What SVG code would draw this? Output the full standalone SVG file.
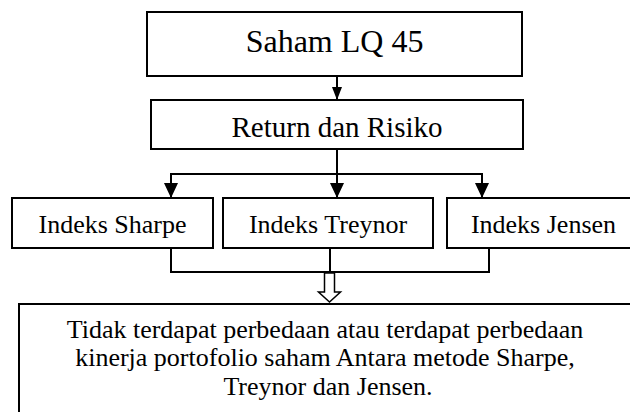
<svg xmlns="http://www.w3.org/2000/svg" width="630" height="412" viewBox="0 0 630 412">
<style>
.box{fill:#fff;stroke:#000;stroke-width:2}
.ln{fill:none;stroke:#000;stroke-width:2}
text{font-family:"Liberation Serif","Times New Roman",serif;fill:#000;text-anchor:middle}
</style>
<defs>
<marker id="ah" viewBox="0 0 15 14" refX="15" refY="7" markerWidth="15" markerHeight="14" markerUnits="userSpaceOnUse" orient="auto">
<path d="M0,0 L15,7 L0,14 Z" fill="#000"/>
</marker>
<marker id="ahs" viewBox="0 0 13 10" refX="13" refY="5" markerWidth="13" markerHeight="10" markerUnits="userSpaceOnUse" orient="auto">
<path d="M0,0 L13,5 L0,10 Z" fill="#000"/>
</marker>
</defs>
<g id="connectors">
<line class="ln" x1="337" y1="76" x2="337" y2="100" marker-end="url(#ahs)"/>
<line class="ln" x1="337" y1="149" x2="337" y2="198" marker-end="url(#ah)"/>
<polyline class="ln" points="171,198 171,174 482,174 482,198"/>
<line class="ln" x1="171" y1="180" x2="171" y2="198" marker-end="url(#ah)"/>
<line class="ln" x1="482" y1="180" x2="482" y2="198" marker-end="url(#ah)"/>
<polyline class="ln" points="171,248 171,272 489,272 489,248"/>
<line class="ln" x1="330" y1="248" x2="330" y2="272"/>
<path d="M324.5,273 L334.5,273 L334.5,292 L340.5,292 L329.5,302 L318.5,292 L324.5,292 Z" fill="#fff" stroke="#000" stroke-width="1.5"/>
</g>
<g id="saham">
<rect class="box" x="147" y="12" width="375" height="64"/>
<text x="334.5" y="52" font-size="32">Saham LQ 45</text>
</g>
<g id="return">
<rect class="box" x="151" y="100" width="372" height="49"/>
<text x="337" y="137" font-size="29">Return dan Risiko</text>
</g>
<g id="sharpe">
<rect class="box" x="12" y="198" width="201" height="50"/>
<text x="112.5" y="233" font-size="26">Indeks Sharpe</text>
</g>
<g id="treynor">
<rect class="box" x="223" y="198" width="210" height="50"/>
<text x="328" y="233" font-size="26">Indeks Treynor</text>
</g>
<g id="jensen">
<rect class="box" x="447" y="198" width="200" height="50"/>
<text x="543.5" y="233" font-size="26">Indeks Jensen</text>
</g>
<g id="kesimpulan">
<rect class="box" x="19" y="304" width="630" height="130"/>
<text x="325" y="338" font-size="26">Tidak terdapat perbedaan atau terdapat perbedaan</text>
<text x="325" y="366" font-size="26">kinerja portofolio saham Antara metode Sharpe,</text>
<text x="328" y="395" font-size="26">Treynor dan Jensen.</text>
</g>
</svg>
